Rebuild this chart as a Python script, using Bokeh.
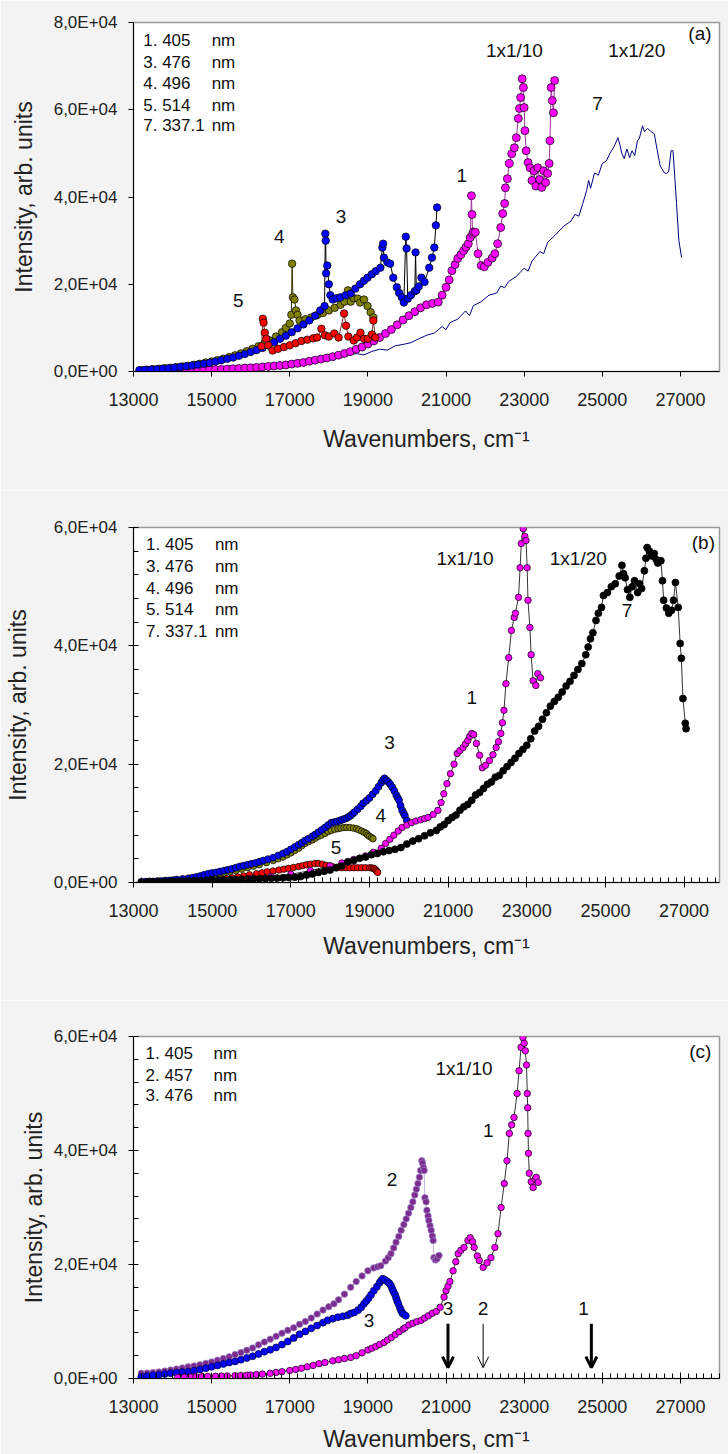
from bokeh.plotting import figure
from bokeh.layouts import column
from bokeh.models import FixedTicker, Label, Arrow, OpenHead, Range1d
from bokeh.embed import file_html
from bokeh.resources import INLINE

# ---------------- data: panel (a)  (wavenumber, intensity) ----------------
a1 = [(13300,0),(13450,40),(13600,80),(13750,110),(13900,150),(14050,190),(14200,220),(14350,260),(14500,300),(14650,340),(14800,380),(14950,410),(15100,450),(15250,490),(15400,550),(15550,620),(15700,700),(15850,780),(16000,850),(16150,940),(16300,1050),(16450,1160),(16600,1270),(16750,1380),(16900,1500),(17050,1700),(17200,1870),(17350,2060),(17500,2350),(17650,2600),(17800,2850),(17950,3100),(18100,3400),(18250,3750),(18400,4150),(18550,4550),(18700,5100),(18850,5600),(19000,6300),(19150,7000),(19300,7800),(19450,8700),(19600,9600),(19750,10700),(19900,11800),(20050,12800),(20200,13700),(20350,14600),(20500,15300),(20650,15600),(20800,15900),(20900,17500),(21000,19300),(21080,21000),(21150,23100),(21230,24500),(21300,25900),(21380,26800),(21450,27700),(21510,28500),(21570,29300),(21620,30700),(21650,40300),(21665,36000),(21680,31500),(21700,32000),(21750,31900),(21820,27000),(21900,24300),(21980,24000),(22070,25000),(22180,26000),(22250,27000),(22320,29300),(22400,33000),(22450,36200),(22500,38500),(22520,42100),(22570,44200),(22620,47700),(22680,49900),(22750,51300),(22800,53600),(22850,58000),(22880,60300),(22910,62800),(22950,67100),(22980,65100),(23000,60500),(23020,55200),(23050,50600),(23100,47900),(23150,46700),(23200,43800),(23250,46000),(23300,42500),(23350,46700),(23400,44000),(23450,42200),(23500,46000),(23550,43300),(23600,45400),(23640,47700),(23660,52900),(23690,65100),(23720,62100),(23750,59300),(23780,66700)]

a3 = [(13150,300),(13300,380),(13450,450),(13600,540),(13750,650),(13900,760),(14050,900),(14200,1050),(14350,1200),(14500,1380),(14650,1570),(14800,1780),(14950,2000),(15100,2300),(15250,2600),(15400,2900),(15550,3200),(15700,3600),(15850,4000),(16000,4450),(16150,4900),(16300,5400),(16450,6000),(16600,6700),(16750,7500),(16900,8200),(17050,9000),(17200,9900),(17350,10800),(17500,11700),(17650,12800),(17780,14000),(17890,15000),(17910,31600),(17920,30000),(17930,22500),(17960,24300),(18000,20000),(18040,17500),(18100,16500),(18200,16800),(18300,17000),(18430,17500),(18560,17900),(18680,19000),(18800,20000),(18900,20800),(18990,21500),(19100,22300),(19200,23000),(19320,23800),(19370,28400),(19390,29300),(19410,26100),(19500,25000),(19570,24700),(19650,21500),(19740,19300),(19800,18000),(19870,17000),(19920,15800),(19970,30900),(19990,28200),(20020,16700),(20100,17500),(20200,18400),(20220,27300),(20240,18600),(20300,19500),(20370,21500),(20450,20500),(20570,23800),(20640,26100),(20700,28400),(20740,33500),(20770,37600)]

a4 = [(13200,300),(13350,420),(13500,530),(13650,640),(13800,750),(13950,860),(14100,1000),(14250,1150),(14400,1300),(14550,1520),(14700,1780),(14850,2070),(15000,2300),(15150,2600),(15300,2950),(15450,3300),(15600,3700),(15750,4150),(15900,4650),(16050,5200),(16200,5800),(16350,6400),(16500,7100),(16650,8000),(16800,9000),(16900,10000),(17000,11000),(17040,13000),(17060,24700),(17080,17000),(17120,16500),(17160,14000),(17200,13000),(17250,11700),(17400,12000),(17550,12400),(17700,12900),(17850,13400),(18000,14000),(18150,14600),(18300,15300),(18400,16000),(18490,18600),(18560,16000),(18640,16800),(18740,16700),(18800,15800),(18900,16500),(18990,15000),(19070,13600),(19140,12400)]

a5 = [(16280,5800),(16310,12100),(16330,11200),(16360,8900),(16400,7500),(16450,6000),(16560,4800),(16700,5200),(16850,5600),(17000,6000),(17150,6500),(17300,7000),(17450,7300),(17600,7600),(17700,7800),(17810,9800),(17900,8300),(18000,8000),(18140,8700),(18250,7800),(18390,13300),(18440,10500),(18500,8000),(18640,7100),(18720,7800),(18810,8900),(18900,7500),(19000,7500),(19100,8500),(19140,11700),(19190,7800)]

a7 = [(14900,300),(15200,900),(15250,200),(15500,500),(15800,600),(16100,800),(16300,700),(16500,1200),(16700,1300),(16900,1600),(17100,1700),(17300,2300),(17500,2200),(17700,2700),(17900,2900),(18100,3300),(18300,3200),(18500,3700),(18700,4100),(18900,3800),(19100,4600),(19300,5100),(19500,4900),(19700,5900),(19900,6200),(20100,6600),(20300,7500),(20500,8300),(20700,8800),(20900,10300),(21000,9600),(21100,11200),(21300,12000),(21500,13900),(21600,12800),(21700,15100),(21900,16000),(22100,17500),(22300,18000),(22400,19600),(22500,19200),(22600,20600),(22800,21800),(23000,23700),(23100,23000),(23200,25300),(23400,27500),(23500,27000),(23600,29600),(23800,31300),(24000,33200),(24200,34500),(24300,36000),(24400,35600),(24500,38500),(24600,41500),(24650,43800),(24700,42000),(24800,45500),(24900,45000),(25000,47700),(25100,48200),(25200,50100),(25300,51500),(25400,53600),(25450,52000),(25500,50000),(25560,48800),(25630,51000),(25700,49000),(25760,50600),(25830,49500),(25900,52900),(25950,53500),(26030,56300),(26080,55000),(26160,55700),(26250,55000),(26330,54500),(26400,51000),(26480,47200),(26580,45600),(26640,45400),(26700,45800),(26760,50600),(26810,50600),(26860,44000),(26900,38500),(26960,30000),(27030,26100)]

# ---------------- data: panel (b) ----------------
b1 = [(14000,100),(14500,200),(15000,300),(15500,500),(16000,700),(16500,1000),(17000,1400),(17500,2000),(18000,2800),(18300,3300),(18600,3900),(18900,4500),(19100,5100),(19300,5800),(19410,6600),(19520,7300),(19620,8000),(19730,8700),(19830,9300),(19950,9700),(20070,10100),(20180,10400),(20300,10600),(20400,10800),(20490,11000),(20620,11500),(20740,12200),(20820,13500),(20890,15000),(20970,16700),(21060,18400),(21150,20000),(21230,21800),(21300,22300),(21380,22800),(21440,23400),(21500,24000),(21550,24700),(21600,25200),(21650,25000),(21720,23500),(21800,21500),(21870,19400),(21950,19800),(22050,20600),(22140,21600),(22220,22800),(22280,23800),(22340,25200),(22380,27000),(22420,29100),(22470,33600),(22540,38000),(22610,42600),(22680,44800),(22710,45500),(22790,48200),(22830,53200),(22860,57300),(22910,59800),(22950,58500),(22980,57800),(23010,53200),(23030,47700),(23080,43100),(23110,38500),(23160,34100),(23230,33300),(23280,35300),(23350,34600)]

b7 = [(13200,0),(13350,50),(13500,100),(13650,120),(13800,150),(13950,180),(14100,200),(14250,230),(14400,250),(14550,280),(14700,300),(14850,350),(15000,400),(15150,420),(15300,450),(15450,480),(15600,500),(15750,550),(15900,600),(16050,620),(16200,650),(16350,680),(16500,700),(16650,750),(16800,800),(16950,850),(17100,900),(17250,1000),(17400,1250),(17550,1450),(17700,1700),(17850,1900),(18000,2100),(18150,2500),(18300,2800),(18450,3500),(18600,3700),(18750,4100),(18900,4300),(19050,4700),(19200,4900),(19350,5200),(19500,5400),(19650,5600),(19800,5900),(19950,6500),(20100,7000),(20250,7400),(20400,7900),(20550,8400),(20700,8800),(20800,9400),(20900,9800),(21000,10500),(21100,11000),(21200,11400),(21300,12200),(21400,12800),(21500,13200),(21600,13900),(21700,14800),(21800,15200),(21900,15900),(22000,16600),(22100,17000),(22200,17800),(22300,18100),(22400,18900),(22500,19600),(22600,20300),(22700,21000),(22800,21800),(22900,22500),(23000,23200),(23100,24300),(23200,25600),(23300,26400),(23400,27600),(23500,28700),(23600,29800),(23700,30600),(23800,31300),(23900,32200),(24000,33200),(24100,34000),(24200,35000),(24300,36000),(24400,37000),(24500,38500),(24560,39800),(24620,41200),(24680,42200),(24760,44300),(24820,45500),(24900,46500),(24950,48500),(25050,49000),(25150,50000),(25250,50500),(25350,51800),(25420,53600),(25460,52200),(25500,51500),(25560,49500),(25620,48200),(25680,50000),(25740,51000),(25820,49000),(25870,50500),(25920,49700),(25990,52700),(26030,54800),(26060,56600),(26120,56000),(26180,55200),(26240,55600),(26290,54600),(26330,54000),(26410,54400),(26450,51000),(26480,47700),(26550,46400),(26610,45500),(26680,46000),(26730,47700),(26780,50700),(26850,46500),(26900,40400),(26930,37900),(26970,31100),(27030,26900),(27050,26000)]

b3 = [(13200,100),(13300,120),(13400,150),(13500,170),(13600,200),(13700,250),(13800,300),(13900,350),(14000,400),(14100,500),(14250,600),(14400,700),(14500,800),(14600,950),(14700,1100),(14800,1300),(14900,1500),(15000,1600),(15100,1700),(15200,1850),(15300,2000),(15400,2150),(15500,2300),(15600,2500),(15700,2700),(15800,2850),(15900,3000),(16000,3150),(16100,3300),(16200,3500),(16300,3700),(16420,3950),(16550,4200),(16680,4550),(16800,4900),(16900,5200),(17000,5600),(17100,6000),(17200,6400),(17280,6700),(17360,7100),(17450,7400),(17550,7800),(17620,8100),(17700,8500),(17790,8900),(17870,9300),(17950,9700),(18030,10100),(18100,10200),(18170,10300),(18240,10450),(18300,10600),(18360,10750),(18420,10900),(18470,11100),(18520,11300),(18570,11600),(18620,11900),(18700,12400),(18780,12900),(18840,13400),(18920,13800),(19000,14300),(19080,14900),(19160,15500),(19230,16200),(19300,16900),(19340,17300),(19380,17600),(19430,17300),(19480,17000),(19530,16600),(19580,16100),(19630,15500),(19680,14800),(19720,14300),(19750,13900),(19790,13000),(19830,12200),(19870,11700),(19900,11300),(19950,10500)]

b4 = [(13200,100),(13350,120),(13500,150),(13650,200),(13800,250),(13950,320),(14100,400),(14250,520),(14400,650),(14550,780),(14700,900),(14850,1100),(15000,1300),(15150,1450),(15300,1600),(15450,1800),(15600,2000),(15750,2250),(15900,2500),(16050,2750),(16200,3000),(16380,3350),(16550,3700),(16680,4000),(16800,4300),(16900,4650),(17000,5000),(17100,5400),(17200,5800),(17280,6200),(17360,6600),(17450,6900),(17550,7200),(17620,7500),(17700,7800),(17780,8000),(17870,8300),(17950,8600),(18030,8800),(18120,9000),(18200,9100),(18270,9200),(18350,9300),(18420,9300),(18500,9300),(18590,9200),(18670,9100),(18730,8900),(18800,8700),(18860,8500),(18920,8300),(18960,8000),(19000,7800),(19050,7600),(19090,7400)]

b5 = [(14800,300),(15000,450),(15200,600),(15350,700),(15500,800),(15650,950),(15800,1100),(15950,1300),(16130,1500),(16270,1650),(16400,1800),(16550,1950),(16700,2100),(16820,2250),(16940,2400),(17070,2550),(17200,2700),(17300,2850),(17400,3000),(17500,3100),(17610,3200),(17700,3200),(17800,3100),(17900,2900),(18000,2800),(18090,2600),(18180,2500),(18290,2500),(18400,2500),(18500,2500),(18600,2500),(18700,2500),(18800,2500),(18900,2500),(19010,2500),(19060,2450),(19100,2400),(19130,2300),(19160,2100),(19190,1900),(19210,1700)]

# ---------------- data: panel (c) ----------------
c1 = [(14130,200),(14300,230),(14450,260),(14600,300),(14750,330),(14900,360),(15100,400),(15250,430),(15400,460),(15600,500),(15750,540),(15900,580),(16000,600),(16150,700),(16300,780),(16500,900),(16650,1050),(16800,1200),(17000,1400),(17150,1600),(17300,1800),(17450,2050),(17600,2300),(17750,2600),(17900,2800),(18100,3100),(18250,3300),(18400,3500),(18560,3700),(18700,4000),(18850,4500),(19000,5000),(19100,5300),(19200,5600),(19300,5950),(19410,6300),(19500,6750),(19600,7200),(19700,7700),(19800,8200),(19900,8650),(19950,8900),(20050,9400),(20150,9700),(20250,9950),(20360,10200),(20450,10600),(20550,11000),(20650,11450),(20750,11750),(20850,12500),(20950,14300),(21000,15400),(21050,16200),(21100,17000),(21180,18900),(21250,20500),(21310,21900),(21380,22500),(21460,23000),(21560,24200),(21620,24700),(21680,24000),(21720,23000),(21800,21500),(21850,20700),(21950,19500),(22050,20300),(22150,21200),(22250,23000),(22330,25400),(22410,30000),(22490,34200),(22560,38200),(22620,43000),(22680,44500),(22740,45800),(22820,50000),(22870,54000),(22920,58100),(22970,59800),(23000,58800),(23030,57500),(23060,55000),(23080,50000),(23090,47500),(23100,43000),(23110,39500),(23130,36000),(23180,34500),(23230,33500),(23280,35000),(23310,35300),(23360,34400)]

c2 = [(13200,900),(13350,950),(13500,1050),(13650,1150),(13800,1300),(13950,1480),(14100,1650),(14250,1850),(14400,2050),(14550,2200),(14700,2400),(14850,2650),(15000,2900),(15150,3200),(15300,3500),(15450,3800),(15600,4200),(15750,4550),(15900,4950),(16050,5350),(16200,5900),(16350,6400),(16500,6900),(16650,7400),(16800,7950),(16950,8450),(17100,8900),(17250,9500),(17400,10000),(17550,10600),(17700,11300),(17850,12000),(18000,12600),(18130,13100),(18250,13800),(18400,14800),(18560,16000),(18700,17000),(18850,18000),(19000,18900),(19150,19400),(19250,19600),(19330,19800),(19450,20600),(19520,21200),(19590,21900),(19660,22900),(19720,23900),(19790,24900),(19850,26000),(19920,27000),(19980,28000),(20040,29000),(20100,30000),(20150,31000),(20200,32200),(20240,33200),(20280,34200),(20320,35300),(20350,36500),(20380,38200),(20400,37800),(20420,37000),(20440,36500),(20460,31700),(20490,31000),(20510,29500),(20540,28500),(20560,27700),(20590,26800),(20620,26000),(20650,25000),(20670,24200),(20690,21200),(20730,20800),(20770,21000),(20820,21600)]

c3 = [(13200,300),(13350,420),(13500,550),(13650,670),(13800,800),(13950,930),(14100,1030),(14250,1120),(14400,1200),(14550,1380),(14700,1580),(14850,1800),(15000,2050),(15150,2300),(15300,2550),(15450,2800),(15600,3000),(15750,3300),(15900,3600),(16050,3900),(16200,4300),(16350,4700),(16500,5050),(16650,5450),(16800,5950),(16950,6500),(17100,7100),(17250,7750),(17400,8250),(17550,8800),(17700,9300),(17850,9800),(17970,10200),(18100,10500),(18230,10750),(18360,10900),(18480,11100),(18560,11400),(18650,11600),(18750,12000),(18830,12500),(18900,13100),(18960,13600),(19020,14100),(19080,14700),(19150,15400),(19230,16100),(19300,16800),(19340,17200),(19380,17500),(19440,17300),(19500,17000),(19550,16700),(19590,16300),(19620,15800),(19650,15300),(19690,14800),(19720,14200),(19750,13600),(19780,13100),(19820,12400),(19850,11900),(19880,11500),(19910,11300),(19970,11000)]

# arrows in (c): wavenumber and label
arrow_x = [21050, 21950, 24720]
arrow_lbl = ["3", "2", "1"]
arrow_w = [3, 1, 3]

# ticks / labels
X_TICKS = [13000, 15000, 17000, 19000, 21000, 23000, 25000, 27000]
YA_TICKS = [0, 20000, 40000, 60000, 80000]
YA_LABELS = ["0,0E+00", "2,0E+04", "4,0E+04", "6,0E+04", "8,0E+04"]
YB_TICKS = [0, 20000, 40000, 60000]
YB_LABELS = ["0,0E+00", "2,0E+04", "4,0E+04", "6,0E+04"]

legend_a = [("1. 405", "nm"), ("3. 476", "nm"), ("4. 496", "nm"), ("5. 514", "nm"), ("7. 337.1", "nm")]
legend_c = [("1. 405", "nm"), ("2. 457", "nm"), ("3. 476", "nm")]

FONT = "Liberation Sans"
BG = "#f3f3f3"


def make_fig(height, left, top, bottom, right, xend, ymax, yticks, ylabels, minor,
             xstand, ystand):
    p = figure(width=728, height=height, x_range=Range1d(13000, xend),
               y_range=Range1d(0, ymax), output_backend="svg", toolbar_location=None,
               min_border_left=left, min_border_top=top, min_border_bottom=bottom,
               min_border_right=right)
    p.background_fill_color = "white"
    p.border_fill_color = BG
    p.outline_line_color = "#9a9a9a"
    p.outline_line_width = 1.5
    p.grid.visible = False
    xa = p.xaxis[0]
    ya = p.yaxis[0]
    x_minor = list(range(13000, 28001, 200)) if minor else []
    y_minor = list(range(0, ymax + 1, 4000)) if minor else []
    xa.ticker = FixedTicker(ticks=X_TICKS, minor_ticks=x_minor)
    ya.ticker = FixedTicker(ticks=yticks, minor_ticks=y_minor)
    xa.major_label_overrides = {t: str(t) for t in X_TICKS}
    ya.major_label_overrides = {t: l for t, l in zip(yticks, ylabels)}
    for ax in (xa, ya):
        ax.axis_line_color = "black"
        ax.major_tick_line_color = "black"
        ax.minor_tick_line_color = "black"
        ax.major_label_text_font = FONT
        ax.axis_label_text_font = FONT
        ax.axis_label_text_font_style = "normal"
        ax.axis_label_text_font_size = "23px"
        ax.axis_label_text_color = "#222222"
        ax.major_label_text_color = "#222222"
        ax.major_tick_out = 5
        ax.minor_tick_out = 0
        ax.minor_tick_in = 5 if minor else 0
    xa.major_tick_in = 6 if minor else 0
    ya.major_tick_in = 0
    xa.major_label_text_font_size = "18px"
    ya.major_label_text_font_size = "17px"
    xa.major_label_standoff = 16
    ya.major_label_standoff = 11
    xa.axis_label = "Wavenumbers, cm\u207b\u00b9"
    ya.axis_label = "Intensity, arb. units"
    xa.axis_label_standoff = xstand
    ya.axis_label_standoff = ystand
    return p


def series(p, pairs, fill, size, line_color, line_width=0.8, outline="black"):
    xs, ys = zip(*sorted(pairs))
    xs, ys = list(xs), list(ys)
    if line_color is not None:
        p.line(xs, ys, line_color=line_color, line_width=line_width)
    if fill is not None:
        p.scatter(xs, ys, size=size, marker="circle", fill_color=fill,
                  line_color=outline, line_width=0.7)


def txt(p, x, y, s, size="19px", align="center"):
    p.add_layout(Label(x=x, y=y, text=s, text_font=FONT, text_font_size=size,
                       text_align=align, text_baseline="middle", text_color="#111111"))


def legend(p, x0, x1, ys, rows):
    for (a, b), y in zip(rows, ys):
        txt(p, x0, y, a, "17px", "left")
        txt(p, x1, y, b, "17px", "left")


# ---------------- panel (a) ----------------
pa = make_fig(490, 128, 22, 119, 1, 28000, 80000, YA_TICKS, YA_LABELS, False, 17, 14)
series(pa, a7, None, 0, "#000080", 1.0)
series(pa, a1, "#ff00ff", 8, "#993399", 1.0)
series(pa, a4, "#808000", 7.5, "#333300", 1.0)
series(pa, a3, "#0000ff", 7.5, "black", 1.0)
series(pa, a5, "#ff0000", 7.5, "#550000", 0.8)
legend(pa, 13250, 15000, [75900, 70800, 66000, 60900, 56400], legend_a)
txt(pa, 22750, 73500, "1x1/10")
txt(pa, 25880, 73500, "1x1/20")
txt(pa, 24880, 61400, "7")
txt(pa, 21400, 45000, "1")
txt(pa, 18310, 35500, "3")
txt(pa, 16730, 30900, "4")
txt(pa, 15680, 16300, "5")
txt(pa, 27500, 77500, "(a)")

# ---------------- panel (b) ----------------
pb = make_fig(510, 123, 37, 118, 1, 27900, 60000, YB_TICKS, YB_LABELS, True, 13, 20)
series(pb, b5, "#ff0000", 6.5, "#440000", 0.8)
series(pb, b4, "#808000", 6.5, "#333300", 0.8)
series(pb, b3, "#0000ff", 7, "black", 0.8)
series(pb, b1, "#ff00ff", 6.5, "black", 0.8)
series(pb, b7, "#000000", 7, "black", 0.8)
legend(pb, 13320, 15070, [57100, 53400, 49700, 46100, 42400], legend_a)
txt(pb, 21430, 54800, "1x1/10")
txt(pb, 24310, 54800, "1x1/20")
txt(pb, 27490, 57500, "(b)")
txt(pb, 25550, 46000, "7")
txt(pb, 21600, 31300, "1")
txt(pb, 19510, 23700, "3")
txt(pb, 19290, 11300, "4")
txt(pb, 18150, 5900, "5")

# ---------------- panel (c) ----------------
pc = make_fig(454, 133, 36, 76, 9, 28000, 60000, YB_TICKS, YB_LABELS, True, 10, 4)
series(pc, c2, "#7b2c8e", 6.5, "#b3a3d9", 0.8, outline="#9c84c6")
series(pc, c3, "#0000ff", 7, "black", 0.8, outline="#000033")
series(pc, c1, "#ff00ff", 6.5, "black", 0.8)
legend(pc, 13310, 15050, [57000, 53100, 49600], legend_c)
txt(pc, 27510, 57400, "(c)")
txt(pc, 21460, 54400, "1x1/10")
txt(pc, 22080, 43500, "1")
txt(pc, 19620, 34900, "2")
txt(pc, 19030, 10200, "3")
for ax_x, lbl, w in zip(arrow_x, arrow_lbl, arrow_w):
    pc.add_layout(Arrow(end=OpenHead(size=11, line_width=w, line_color="black"),
                        x_start=ax_x, y_start=9600, x_end=ax_x, y_end=1900,
                        line_width=w, line_color="black"))
    txt(pc, ax_x - (200 if lbl == "1" else 0), 12300, lbl)

page = column(pa, pb, pc)
open("out.html", "w").write(file_html(page, INLINE))
